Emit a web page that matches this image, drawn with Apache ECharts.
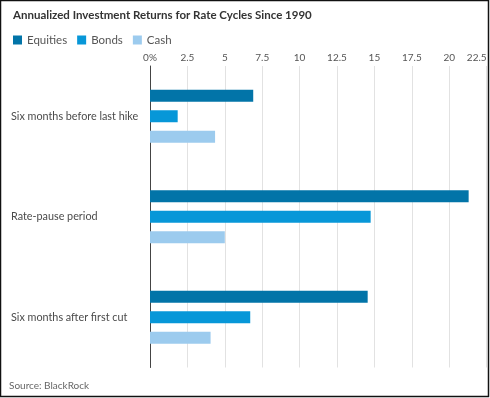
<!DOCTYPE html>
<html>
<head>
<meta charset="utf-8">
<script src="https://cdn.jsdelivr.net/npm/echarts@6/dist/echarts.min.js"></script>
<style>
html,body{margin:0;padding:0;background:#fff;}
#chart{width:490px;height:398px;}
</style>
</head>
<body>
<div id="chart"></div>
<script>
var categories = ['Six months before last hike', 'Rate-pause period', 'Six months after first cut'];
var seriesNames = ['Equities', 'Bonds', 'Cash'];
var equities = [6.9, 21.3, 14.55];
var bonds = [1.85, 14.75, 6.7];
var cash = [4.35, 5.0, 4.05];
var xTicks = [0, 2.5, 5, 7.5, 10, 12.5, 15, 17.5, 20, 22.5];
var colors = ['#0274a8', '#0797d8', '#9ccbee'];
var fontFam = 'Lato, "Noto Sans", sans-serif';

var chart = echarts.init(document.getElementById('chart'), null, {renderer: 'canvas'});
var values = [equities, bonds, cash];
chart.setOption({
  animation: false,
  backgroundColor: '#fff',
  textStyle: {fontFamily: fontFam},
  title: {
    text: 'Annualized Investment Returns for Rate Cycles Since 1990',
    left: 8, top: 4,
    textStyle: {fontSize: 11.5, fontWeight: 'bold', color: '#333', fontFamily: fontFam}
  },
  legend: {
    left: 8, top: 29,
    itemWidth: 9, itemHeight: 9, itemGap: 10,
    icon: 'rect',
    textStyle: {fontSize: 11.5, color: '#555', fontFamily: fontFam},
    data: seriesNames
  },
  grid: {left: 150, right: 3.4, top: 66, bottom: 30.5, containLabel: false},
  xAxis: {
    type: 'value', position: 'top',
    min: xTicks[0], max: xTicks[xTicks.length - 1], interval: 2.5,
    axisLine: {show: false}, axisTick: {show: false},
    splitLine: {show: true, lineStyle: {color: '#e2e2e2', width: 1}},
    axisLabel: {
      margin: 3, fontSize: 10, color: '#555', fontFamily: fontFam,
      alignMaxLabel: 'right',
      formatter: function (v) { return v === 0 ? '0%' : String(v); }
    }
  },
  yAxis: {
    type: 'category', data: categories, inverse: true,
    axisLine: {show: true, lineStyle: {color: '#444', width: 1}},
    axisTick: {show: false},
    axisLabel: {align: 'left', margin: 139, fontSize: 10.8, color: '#4a4a4a', fontFamily: fontFam}
  },
  series: seriesNames.map(function (n, i) {
    return {
      name: n, type: 'bar', data: values[i],
      barWidth: 12, barGap: '70%',
      itemStyle: {color: colors[i]}
    };
  }),
  graphic: [
    {type: 'text', left: 9, top: 381, style: {text: 'Source: BlackRock', fontSize: 10, fill: '#666', fontFamily: fontFam}},
    {type: 'rect', shape: {x: 0.5, y: 0.5, width: 488, height: 396}, style: {fill: 'none', stroke: '#111', lineWidth: 1.5}, silent: true}
  ]
});
</script>
</body>
</html>
